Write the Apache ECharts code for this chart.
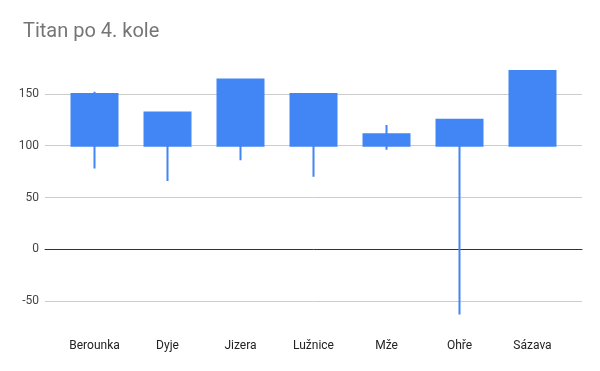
<!DOCTYPE html>
<html><head><meta charset="utf-8">
<script src="https://cdn.jsdelivr.net/npm/echarts@6/dist/echarts.min.js"></script>
<style>html,body{margin:0;padding:0;background:#fff}#c{width:600px;height:371px}</style>
</head><body><div id="c"></div>
<script>
var categories = ['Berounka','Dyje','Jizera','Lužnice','Mže','Ohře','Sázava'];
var openVals  = [100,100,100,100,100,100,100];
var closeVals = [150,132,164,150,111,125,172];
var lowVals   = [78,66,86,70,96,-63,100];
var highVals  = [152,132,164,150,120,125,172];
var yTicks = [-50,0,50,100,150];

var candles = categories.map(function(c,i){return [openVals[i],closeVals[i],lowVals[i],highVals[i]];});
var font = 'Roboto, Arial, sans-serif';
var chart = echarts.init(document.getElementById('c'));
chart.setOption({
  animation:false,
  title:{text:'Titan po 4. kole',left:18,top:17,textStyle:{fontFamily:font,fontSize:20,fontWeight:'normal',color:'#757575'}},
  grid:[
    {left:45,right:18,top:68,height:259},
    {left:58,right:31,top:68,height:259}
  ],
  xAxis:[
    {gridIndex:0,type:'category',data:categories,axisLine:{show:true,onZero:true,lineStyle:{color:'#333',width:1}},axisTick:{show:false},axisLabel:{show:false},splitLine:{show:false}},
    {gridIndex:1,type:'category',data:categories,axisLine:{show:false,onZero:false},axisTick:{show:false},axisLabel:{fontFamily:font,fontSize:12,color:'#222',margin:13},splitLine:{show:false}}
  ],
  yAxis:[
    {gridIndex:0,type:'value',min:-75,max:175,axisLine:{show:false},axisTick:{show:false,customValues:yTicks},
     axisLabel:{customValues:yTicks,fontFamily:font,fontSize:12,color:'#444',margin:6},
     splitLine:{show:true,lineStyle:{color:'#ccc',width:1}}},
    {gridIndex:1,type:'value',min:-75,max:175,show:false,splitLine:{show:false}}
  ],
  series:[{
    type:'candlestick',xAxisIndex:1,yAxisIndex:1,data:candles,barWidth:47,
    itemStyle:{color:'#4285F4',borderColor:'#4285F4',color0:'#4285F4',borderColor0:'#4285F4',borderWidth:2}
  }]
});
</script></body></html>
